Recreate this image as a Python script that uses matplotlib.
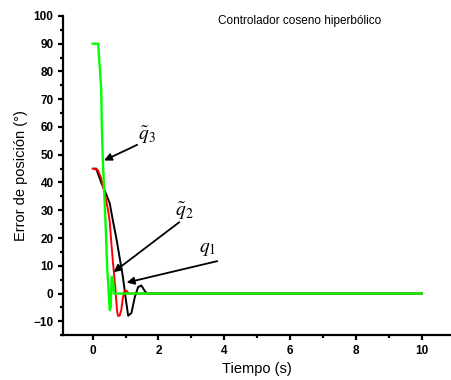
import matplotlib
matplotlib.use('Agg')
import matplotlib.pyplot as plt
from matplotlib.ticker import MultipleLocator

plt.rcParams['font.family'] = ['Liberation Sans', 'DejaVu Sans']
plt.rcParams['mathtext.fontset'] = 'stix'

# ==== data ====
t_q1 = [0.05, 0.11, 0.26, 0.37, 0.52, 0.62, 0.72, 0.82, 0.92, 1.00, 1.08, 1.18, 1.28, 1.38, 1.48, 1.58, 1.65, 10]
e_q1 = [45, 45, 40, 37, 32.5, 26, 20, 13, 6, -1.3, -8, -7, -1.4, 2.3, 2.9, 1, 0, 0]

t_q2 = [0.0, 0.16, 0.26, 0.37, 0.47, 0.52, 0.57, 0.62, 0.69, 0.74, 0.77, 0.82, 0.87, 0.92, 0.97, 1.03, 1.10, 10]
e_q2 = [45, 44.5, 41.5, 36, 30, 26, 18, 11, 2, -6, -8, -8, -6, -1.5, 1, 1, 0, 0]

t_q3 = [0.0, 0.17, 0.19, 0.26, 0.28, 0.31, 0.34, 0.40, 0.44, 0.48, 0.52, 0.55, 0.58, 0.62, 0.65, 10]
e_q3 = [90, 90, 86, 74, 60, 48, 40, 23, 10, 2, -6, -5, 6, 5, 0, 0]

# annotation (label, text pos, arrow tail, arrow head)
labels = [r'$\tilde{q}_3$', r'$\tilde{q}_2$', r'$q_1$']
text_xy = [(1.65, 57), (2.8, 29.5), (3.5, 16)]
tail_xy = [(1.43, 54), (2.7, 26.3), (3.87, 11.9)]
head_xy = [(0.27, 47.5), (0.57, 7.1), (0.95, 3.7)]

# ==== plot ====
fig = plt.figure(figsize=(4.51, 3.8), dpi=100)
ax = fig.add_axes([0.1397, 0.118, 0.861, 0.840])

ax.plot(t_q1, e_q1, color='black', lw=1.4)
ax.plot(t_q2, e_q2, color='#ff0000', lw=1.4)
ax.plot(t_q3, e_q3, color='#00ff00', lw=1.7)

for lab, txy, a, b in zip(labels, text_xy, tail_xy, head_xy):
    ax.annotate('', xy=b, xytext=a,
                arrowprops=dict(arrowstyle='-|>', color='black', lw=1.3, mutation_scale=11))
    ax.text(txy[0], txy[1], lab, fontsize=14, ha='center', va='center')

ax.text(0.61, 0.985, 'Controlador coseno hiperbólico', transform=ax.transAxes,
        ha='center', va='center', fontsize=8.5)

ax.set_xlim(-0.9, 10.9)
ax.set_ylim(-15, 100)
ax.xaxis.set_major_locator(MultipleLocator(2))
ax.xaxis.set_minor_locator(MultipleLocator(1))
ax.yaxis.set_major_locator(MultipleLocator(10))
ax.yaxis.set_minor_locator(MultipleLocator(5))

for s in ['top', 'right']:
    ax.spines[s].set_visible(False)
for s in ['left', 'bottom']:
    ax.spines[s].set_linewidth(1.6)
ax.tick_params(which='major', direction='out', length=3.8, width=1.6, labelsize=8.5, pad=3)
ax.tick_params(which='minor', direction='out', length=2, width=1.6)
for lbl in ax.get_xticklabels() + ax.get_yticklabels():
    lbl.set_fontweight('bold')

ax.set_xlabel('Tiempo (s)', fontsize=10.5, labelpad=4)
ax.set_ylabel('Error de posición (°)', fontsize=10.5, labelpad=4)

plt.savefig('out.png', dpi=100)
